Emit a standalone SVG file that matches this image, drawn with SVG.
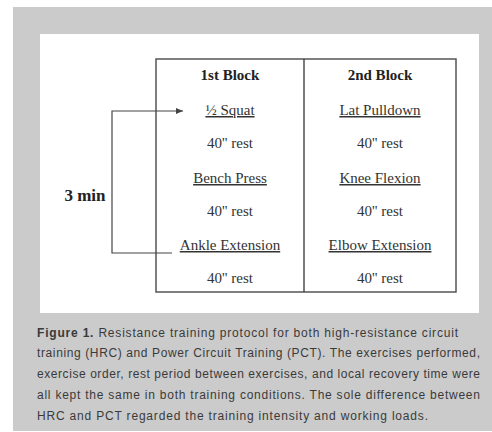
<svg xmlns="http://www.w3.org/2000/svg" width="492" height="432" viewBox="0 0 492 432">
<style>
.cell{font-family:"Liberation Serif","Times New Roman",serif;font-size:15px;fill:#333;text-anchor:middle}
.u{text-decoration:underline}
.hd{font-weight:bold;fill:#222}
.cap{font-family:"Liberation Sans",Arial,sans-serif;font-size:12px;fill:#3a3a3a}
.ln{stroke:#444;stroke-width:1.2;fill:none}
</style>
<defs>
<marker id="ah" markerWidth="8" markerHeight="8" refX="7" refY="4" orient="auto" markerUnits="userSpaceOnUse">
<path d="M0,1 L7,4 L0,7 Z" fill="#444"/>
</marker>
</defs>
<rect x="0" y="0" width="492" height="432" fill="#fff"/>
<rect x="13" y="7" width="479" height="424" fill="#cbcbcb"/>
<rect x="40" y="34" width="439" height="279" fill="#fff"/>
<g id="table">
<rect x="156" y="59" width="300" height="233" fill="none" stroke="#555" stroke-width="1.5"/>
<line x1="304" y1="59" x2="304" y2="292" stroke="#333" stroke-width="1.3"/>
</g>
<g id="block1">
<text class="cell hd" x="230" y="80">1st Block</text>
<text class="cell u" x="230" y="115">½ Squat</text>
<text class="cell" x="230" y="148">40'' rest</text>
<text class="cell u" x="230" y="183">Bench Press</text>
<text class="cell" x="230" y="216">40'' rest</text>
<text class="cell u" x="230" y="250">Ankle Extension</text>
<text class="cell" x="230" y="283">40'' rest</text>
</g>
<g id="block2">
<text class="cell hd" x="380" y="80">2nd Block</text>
<text class="cell u" x="380" y="115">Lat Pulldown</text>
<text class="cell" x="380" y="148">40'' rest</text>
<text class="cell u" x="380" y="183">Knee Flexion</text>
<text class="cell" x="380" y="216">40'' rest</text>
<text class="cell u" x="380" y="250">Elbow Extension</text>
<text class="cell" x="380" y="283">40'' rest</text>
</g>
<g id="label">
<text class="cell hd" x="85" y="201" style="font-size:17px">3 min</text>
</g>
<g id="connectors">
<path class="ln" d="M172,253 H112 V111 H183" marker-end="url(#ah)"/>
</g>
<g id="caption">
<text class="cap" x="37" y="337" textLength="421" lengthAdjust="spacing"><tspan font-weight="bold">Figure 1.</tspan> Resistance training protocol for both high-resistance circuit</text>
<text class="cap" x="37" y="357" textLength="443" lengthAdjust="spacing">training (HRC) and Power Circuit Training (PCT). The exercises performed,</text>
<text class="cap" x="37" y="378" textLength="443" lengthAdjust="spacing">exercise order, rest period between exercises, and local recovery time were</text>
<text class="cap" x="37" y="399" textLength="443" lengthAdjust="spacing">all kept the same in both training conditions. The sole difference between</text>
<text class="cap" x="37" y="420" textLength="391" lengthAdjust="spacing">HRC and PCT regarded the training intensity and  working loads.</text>
</g>
</svg>
